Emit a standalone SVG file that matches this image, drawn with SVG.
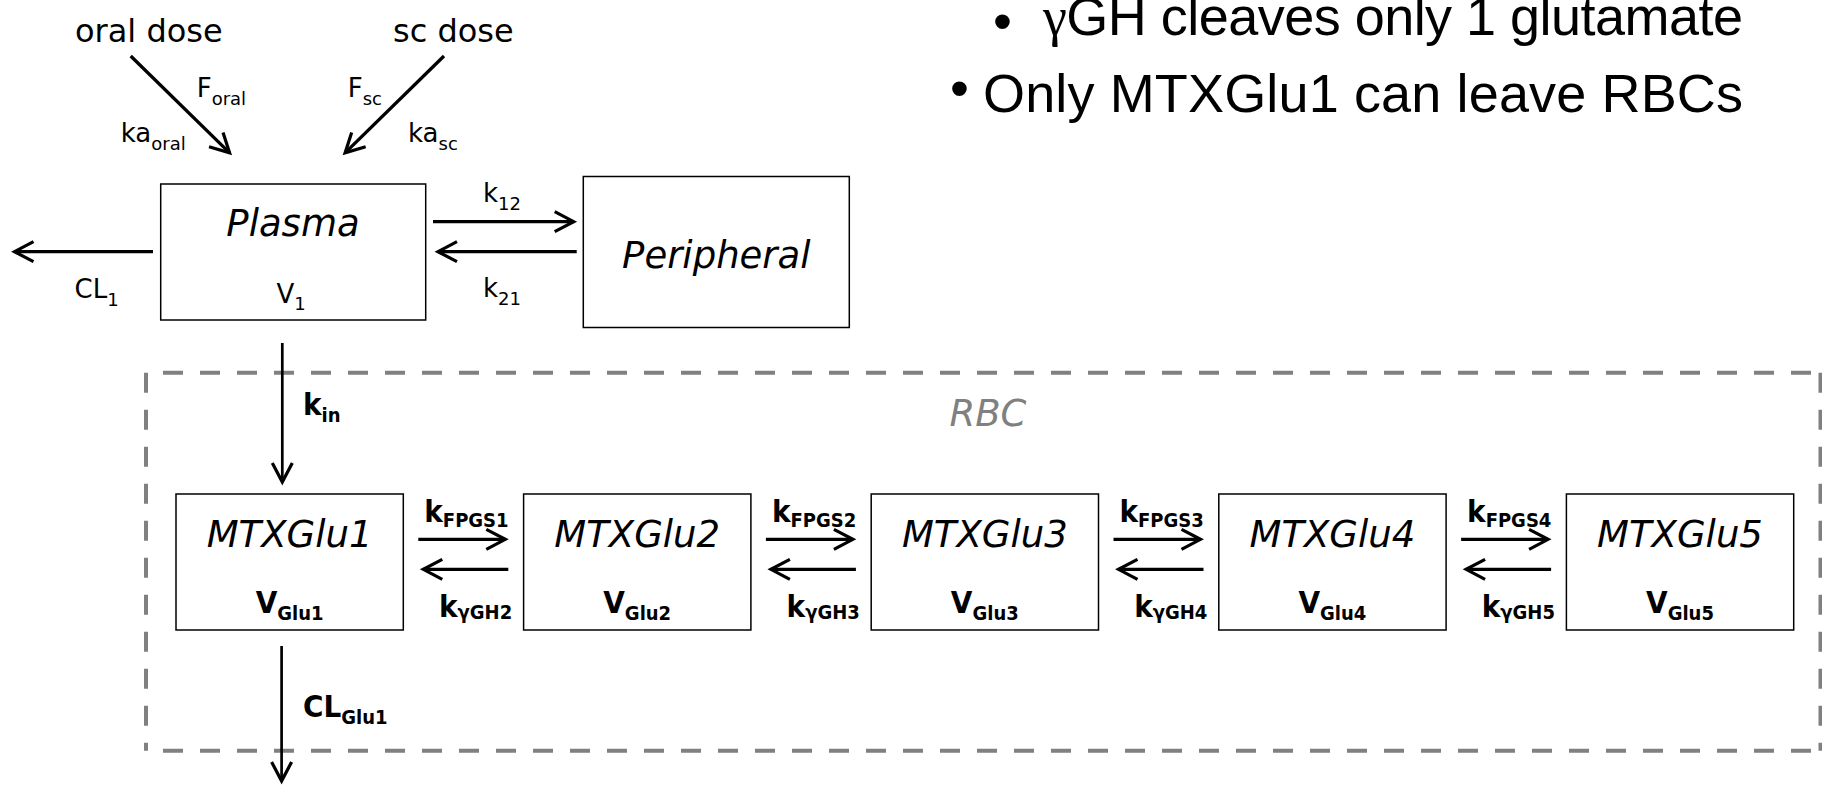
<svg xmlns="http://www.w3.org/2000/svg" width="1822" height="786" viewBox="0 0 1822 786">
<style>
text{fill:#000}
.reg{font-family:"DejaVu Sans",sans-serif;font-size:26px}
.rs{font-size:18px}
.dose{font-family:"DejaVu Sans",sans-serif;font-size:32px}
.title{font-family:"DejaVu Sans",sans-serif;font-style:italic;font-size:37px;text-anchor:middle}
.bold{font-family:"DejaVu Sans Condensed","DejaVu Sans",sans-serif;font-stretch:condensed;font-weight:bold;font-size:31px}
.bs{font-size:20px}
.bullet{font-family:"Liberation Sans",Arial,sans-serif;font-size:54px}
.box{fill:#fff;stroke:#000;stroke-width:1.5}
.arrow{fill:none;stroke:#000;stroke-width:3.3;marker-end:url(#ah)}
.varrow{fill:none;stroke:#000;stroke-width:2.7;marker-end:url(#ah)}
.dash{fill:none;stroke:#808080;stroke-width:4;stroke-dasharray:20 17}
.rbc{font-family:"DejaVu Sans",sans-serif;font-style:italic;font-size:37px;fill:#808080;text-anchor:middle}
</style>
<defs>
<marker id="ah" markerUnits="userSpaceOnUse" markerWidth="28" markerHeight="28" viewBox="-23 -14 28 28" refX="0" refY="0" orient="auto">
<path d="M-19,-10 L0,0 L-19,10" fill="none" stroke="#000" stroke-width="3.2"/>
</marker>
</defs>
<rect width="1822" height="786" fill="#fff"/>

<g id="notes">
<text class="bullet" x="993" y="40">•</text>
<text class="bullet" x="1043" y="35" textLength="700" lengthAdjust="spacing"><tspan font-family="Liberation Serif, serif">γ</tspan>GH cleaves only 1 glutamate</text>
<text class="bullet" x="950" y="107">•</text>
<text class="bullet" x="983" y="111.7" textLength="760" lengthAdjust="spacing">Only MTXGlu1 can leave RBCs</text>
</g>

<g id="rbc-compartment">
<line class="dash" x1="146" y1="372.7" x2="146" y2="750.7"/>
<line class="dash" x1="146" y1="372.7" x2="1820.5" y2="372.7" stroke-dashoffset="20"/>
<line class="dash" x1="146" y1="750.7" x2="1820.5" y2="750.7" stroke-dashoffset="20"/>
<line class="dash" x1="1820.5" y1="372.7" x2="1820.5" y2="750.7"/>
<text class="rbc" x="988" y="426">RBC</text>
</g>

<g id="oral-dose"><text class="dose" x="75" y="41.7">oral dose</text></g>
<g id="sc-dose"><text class="dose" x="393" y="41.7">sc dose</text></g>

<g id="plasma">
<rect class="box" x="160.7" y="184" width="265" height="136"/>
<text class="title" x="293" y="236">Plasma</text>
<text class="reg" x="291" y="303.3" text-anchor="middle">V<tspan class="rs" dy="7">1</tspan></text>
</g>

<g id="peripheral">
<rect class="box" x="583.3" y="176.5" width="266" height="151"/>
<text class="title" x="716.3" y="268">Peripheral</text>
</g>

<g id="mtxglu1">
<rect class="box" x="176" y="494" width="227.3" height="136"/>
<text class="title" x="289.6" y="547">MTXGlu1</text>
<text class="bold" x="289.6" y="613.3" text-anchor="middle">V<tspan class="bs" dy="6.7">Glu1</tspan></text>
</g>
<g id="mtxglu2">
<rect class="box" x="523.6" y="494" width="227.3" height="136"/>
<text class="title" x="637.2" y="547">MTXGlu2</text>
<text class="bold" x="637.2" y="613.3" text-anchor="middle">V<tspan class="bs" dy="6.7">Glu2</tspan></text>
</g>
<g id="mtxglu3">
<rect class="box" x="871.2" y="494" width="227.3" height="136"/>
<text class="title" x="984.8" y="547">MTXGlu3</text>
<text class="bold" x="984.8" y="613.3" text-anchor="middle">V<tspan class="bs" dy="6.7">Glu3</tspan></text>
</g>
<g id="mtxglu4">
<rect class="box" x="1218.8" y="494" width="227.3" height="136"/>
<text class="title" x="1332.4" y="547">MTXGlu4</text>
<text class="bold" x="1332.4" y="613.3" text-anchor="middle">V<tspan class="bs" dy="6.7">Glu4</tspan></text>
</g>
<g id="mtxglu5">
<rect class="box" x="1566.4" y="494" width="227.3" height="136"/>
<text class="title" x="1680" y="547">MTXGlu5</text>
<text class="bold" x="1680" y="613.3" text-anchor="middle">V<tspan class="bs" dy="6.7">Glu5</tspan></text>
</g>

<g id="connectors">
<path class="arrow" d="M130.7,56 L229.6,152.9"/>
<path class="arrow" d="M444,56 L345.1,152.9"/>
<path class="arrow" d="M153,251.7 H14.5"/>
<path class="arrow" d="M433,221.7 H573.7"/>
<path class="arrow" d="M576.7,251.7 H438"/>
<path class="varrow" d="M282.3,343 V482"/>
<path class="varrow" d="M281.6,646 V781"/>
<path class="arrow" d="M418.3,539.3 H505.3"/>
<path class="arrow" d="M508.3,569.3 H423.3"/>
<path class="arrow" d="M765.9,539.3 H852.9"/>
<path class="arrow" d="M855.9,569.3 H770.9"/>
<path class="arrow" d="M1113.5,539.3 H1200.5"/>
<path class="arrow" d="M1203.5,569.3 H1118.5"/>
<path class="arrow" d="M1461.1,539.3 H1548.1"/>
<path class="arrow" d="M1551.1,569.3 H1466.1"/>

<text class="reg" x="196.7" y="96.7">F<tspan class="rs" dy="8">oral</tspan></text>
<text class="reg" x="120.7" y="141.7">ka<tspan class="rs" dy="8">oral</tspan></text>
<text class="reg" x="347.7" y="96.7">F<tspan class="rs" dy="8">sc</tspan></text>
<text class="reg" x="408" y="141.7">ka<tspan class="rs" dy="8">sc</tspan></text>
<text class="reg" x="74.6" y="298">CL<tspan class="rs" dy="8">1</tspan></text>
<text class="reg" x="483" y="201.7">k<tspan class="rs" dy="8">12</tspan></text>
<text class="reg" x="483" y="297">k<tspan class="rs" dy="8">21</tspan></text>

<text class="bold" x="303" y="415">k<tspan class="bs" dy="6.7">in</tspan></text>
<text class="bold" x="303" y="716.7">CL<tspan class="bs" dy="7">Glu1</tspan></text>

<text class="bold" x="424.3" y="521.7">k<tspan class="bs" dy="5">FPGS1</tspan></text>
<text class="bold" x="439" y="616.7">k<tspan class="bs" dy="2">γGH2</tspan></text>
<text class="bold" x="771.9" y="521.7">k<tspan class="bs" dy="5">FPGS2</tspan></text>
<text class="bold" x="786.6" y="616.7">k<tspan class="bs" dy="2">γGH3</tspan></text>
<text class="bold" x="1119.5" y="521.7">k<tspan class="bs" dy="5">FPGS3</tspan></text>
<text class="bold" x="1134.2" y="616.7">k<tspan class="bs" dy="2">γGH4</tspan></text>
<text class="bold" x="1467.1" y="521.7">k<tspan class="bs" dy="5">FPGS4</tspan></text>
<text class="bold" x="1481.8" y="616.7">k<tspan class="bs" dy="2">γGH5</tspan></text>
</g>
</svg>
